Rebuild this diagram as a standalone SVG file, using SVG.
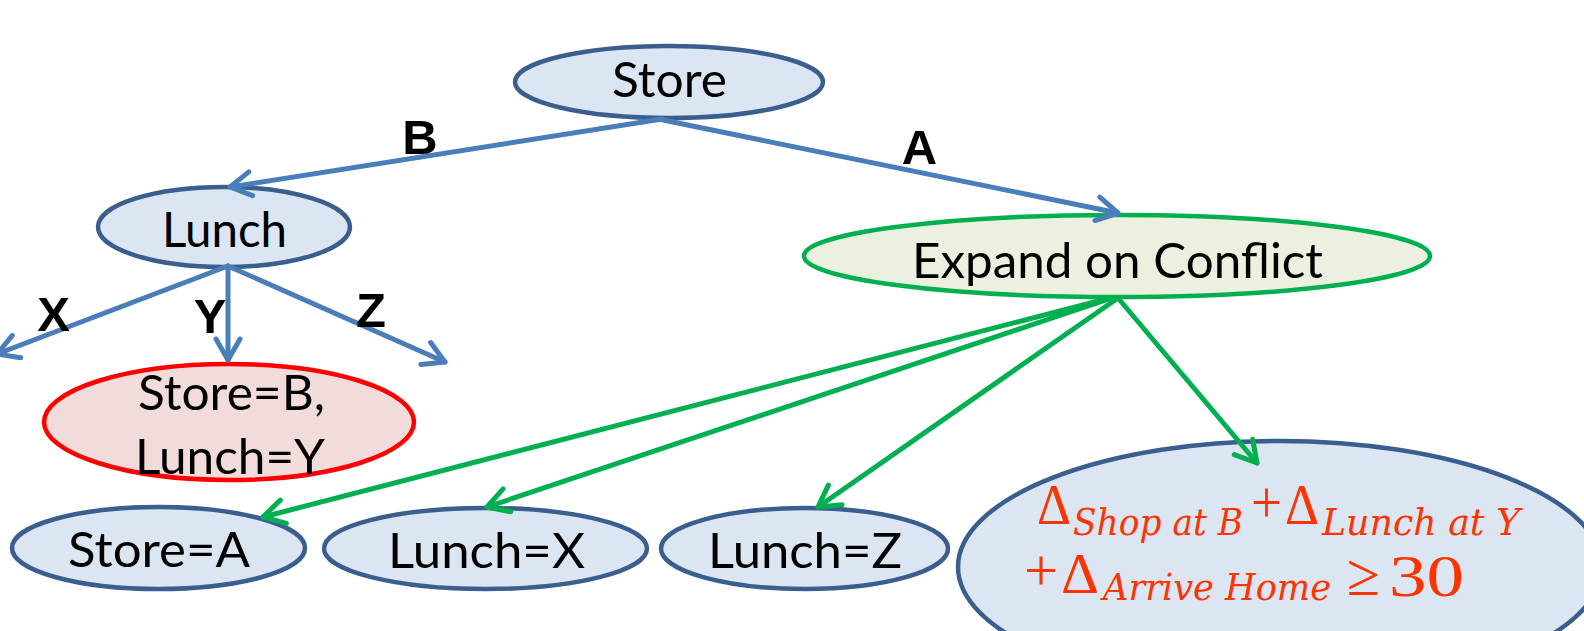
<svg xmlns="http://www.w3.org/2000/svg" width="1584" height="631" viewBox="0 0 1584 631">
<style>
.blue{fill:#DCE6F2;stroke:#3A5F8F;stroke-width:4.5}
.green{fill:#EBF1DE;stroke:#00B050;stroke-width:4.5}
.red{fill:#F2DCDB;stroke:#FF0000;stroke-width:4.5}
.lbl{font-family:Lato,"Open Sans",sans-serif;font-size:48px;fill:#000;text-anchor:middle}
.edge{font-family:"Liberation Sans",Arial,sans-serif;font-weight:bold;font-size:49px;fill:#000;text-anchor:middle}
.cb{stroke:#4A7EBB;stroke-width:5;fill:none;stroke-linecap:round}
.cg{stroke:#00B050;stroke-width:5;fill:none;stroke-linecap:round}
.m{font-family:"Liberation Serif","DejaVu Serif",serif;fill:#FF3300}
.mb{font-size:56px}
.mn{font-size:60px}
.ms{font-family:"DejaVu Serif","Liberation Serif",serif;font-size:37px;font-style:italic}
</style>
<defs>
<marker id="ab" markerUnits="userSpaceOnUse" markerWidth="40" markerHeight="40" refX="0" refY="0" viewBox="-30 -20 40 40" orient="auto" overflow="visible">
<path d="M-21,-12 L0,0 L-21,12" fill="none" stroke="#4A7EBB" stroke-width="5" stroke-linecap="round" stroke-linejoin="round"/>
</marker>
<marker id="ag" markerUnits="userSpaceOnUse" markerWidth="40" markerHeight="40" refX="0" refY="0" viewBox="-30 -20 40 40" orient="auto" overflow="visible">
<path d="M-21,-12 L0,0 L-21,12" fill="none" stroke="#00B050" stroke-width="5" stroke-linecap="round" stroke-linejoin="round"/>
</marker>
</defs>
<rect width="1584" height="631" fill="#FFFFFF"/>
<g id="store">
<ellipse class="blue" cx="669" cy="82" rx="154" ry="36"/>
<text class="lbl" x="669.5" y="97" textLength="115" lengthAdjust="spacingAndGlyphs">Store</text>
</g>
<g id="lunch">
<ellipse class="blue" cx="224" cy="227" rx="126" ry="40"/>
<text class="lbl" x="224.5" y="247" textLength="125" lengthAdjust="spacingAndGlyphs">Lunch</text>
</g>
<g id="expand">
<ellipse class="green" cx="1117" cy="256" rx="313" ry="41"/>
<text class="lbl" x="1117.5" y="278" textLength="411" lengthAdjust="spacingAndGlyphs">Expand on Conflict</text>
</g>
<g id="conflict">
<ellipse class="red" cx="229" cy="422" rx="185" ry="58"/>
<text class="lbl" x="231.5" y="410" textLength="187" lengthAdjust="spacingAndGlyphs">Store=B,</text>
<text class="lbl" x="230" y="474" textLength="190" lengthAdjust="spacingAndGlyphs">Lunch=Y</text>
</g>
<g id="storeA">
<ellipse class="blue" cx="158.5" cy="548" rx="146.5" ry="41"/>
<text class="lbl" x="159" y="567" textLength="182" lengthAdjust="spacingAndGlyphs">Store=A</text>
</g>
<g id="lunchX">
<ellipse class="blue" cx="485.5" cy="548.5" rx="161.5" ry="40.5"/>
<text class="lbl" x="486.5" y="568" textLength="197" lengthAdjust="spacingAndGlyphs">Lunch=X</text>
</g>
<g id="lunchZ">
<ellipse class="blue" cx="804.5" cy="548.5" rx="143.5" ry="40.5"/>
<text class="lbl" x="805" y="568" textLength="194" lengthAdjust="spacingAndGlyphs">Lunch=Z</text>
</g>
<g id="constraint">
<ellipse class="blue" cx="1280" cy="567" rx="322" ry="126"/>
<text class="m mb" x="1037" y="524" textLength="34" lengthAdjust="spacingAndGlyphs">Δ</text>
<text class="m ms" x="1073" y="535" textLength="170" lengthAdjust="spacingAndGlyphs">Shop at B</text>
<text class="m mn" x="1251" y="522" textLength="31" lengthAdjust="spacingAndGlyphs">+</text>
<text class="m mb" x="1285" y="524" textLength="34" lengthAdjust="spacingAndGlyphs">Δ</text>
<text class="m ms" x="1322" y="535" textLength="198" lengthAdjust="spacingAndGlyphs">Lunch at Y</text>
<text class="m mn" x="1024" y="590" textLength="34" lengthAdjust="spacingAndGlyphs">+</text>
<text class="m mb" x="1061" y="593" textLength="38" lengthAdjust="spacingAndGlyphs">Δ</text>
<text class="m ms" x="1103" y="600" textLength="228" lengthAdjust="spacingAndGlyphs">Arrive Home</text>
<text class="m mn" x="1347" y="595" textLength="33" lengthAdjust="spacingAndGlyphs">≥</text>
<text class="m mn" x="1389" y="596" textLength="75" lengthAdjust="spacingAndGlyphs">30</text>
</g>
<g id="connectors">
<line class="cb" x1="662" y1="119" x2="230" y2="187" marker-end="url(#ab)"/>
<line class="cb" x1="663" y1="120" x2="1118" y2="213" marker-end="url(#ab)"/>
<line class="cb" x1="228" y1="266" x2="-3" y2="354" marker-end="url(#ab)"/>
<line class="cb" x1="228" y1="266" x2="228" y2="360" marker-end="url(#ab)"/>
<line class="cb" x1="228" y1="266" x2="445" y2="362" marker-end="url(#ab)"/>
<line class="cg" x1="1110" y1="298" x2="263" y2="517" marker-end="url(#ag)"/>
<line class="cg" x1="1112" y1="298" x2="487" y2="507" marker-end="url(#ag)"/>
<line class="cg" x1="1118" y1="298" x2="818" y2="507" marker-end="url(#ag)"/>
<line class="cg" x1="1118" y1="298" x2="1257" y2="463" marker-end="url(#ag)"/>
<text class="edge" x="420" y="154">B</text>
<text class="edge" x="919.5" y="164">A</text>
<text class="edge" x="53.5" y="331">X</text>
<text class="edge" x="210" y="333">Y</text>
<text class="edge" x="371" y="327">Z</text>
</g>
</svg>
